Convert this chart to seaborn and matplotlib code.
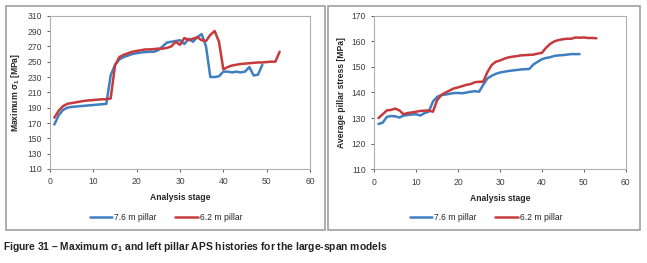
import numpy as np
import pandas as pd
import seaborn as sns
import matplotlib.pyplot as plt
from matplotlib.patches import Rectangle

sns.set_style("white")
plt.rcParams["font.family"] = ["Liberation Sans", "DejaVu Sans"]
plt.rcParams["mathtext.fontset"] = "custom"
plt.rcParams["mathtext.rm"] = "Liberation Sans"
plt.rcParams["mathtext.bf"] = "Liberation Sans:bold"

# left chart: maximum sigma 1 per analysis stage
sig_76 = [168, 180, 187, 190, 191, 191.5, 192, 192.5, 193, 193.5, 194, 194.5, 195,
          232, 246, 253, 256, 258, 260, 261, 262, 262.5, 263, 263, 265, 270,
          275, 276, 277, 278, 273, 280, 276, 282, 286, 270, 230, 230, 231,
          237, 237, 236, 237, 236, 237, 243, 232, 233, 246]
sig_62 = [177, 186, 192, 195, 196, 197, 198, 199, 199.5, 200, 200.5, 201, 201, 202,
          245, 256, 259, 261, 263, 264, 265, 266, 266, 266.5, 267, 267, 268,
          270, 276, 272, 281, 278, 280, 282, 278, 277, 285, 290, 276, 240,
          243, 245, 246, 247, 247.5, 248, 248.5, 249, 249, 249.5, 250, 250, 263]

# right chart: average pillar stress per analysis stage
aps_76 = [127.7, 128.2, 130.5, 130.8, 130.7, 130.2, 131, 131.2, 131.4, 131.5, 131, 132,
          132.5, 136.5, 138.3, 139, 139.2, 139.5, 139.8, 139.8, 139.7, 140, 140.3, 140.5,
          140.3, 143, 145.5, 146.5, 147.3, 147.8, 148.1, 148.4, 148.6, 148.8, 149,
          149.1, 149.2, 151, 152, 153, 153.5, 153.8, 154.3, 154.5, 154.6, 154.8, 155,
          155, 155]
aps_62 = [130, 131.5, 133, 133.2, 133.7, 133, 131.5, 132, 132.2, 132.5, 132.8, 132.9,
          133, 132.5, 137, 139, 140, 140.8, 141.6, 142, 142.5, 143, 143.3, 144, 144.2,
          144.2, 148, 150.7, 152, 152.5, 153.2, 153.7, 154, 154.2, 154.5, 154.6, 154.7,
          154.8, 155.2, 155.5, 157.5, 159, 160, 160.5, 160.8, 161, 161, 161.5, 161.4,
          161.5, 161.3, 161.3, 161.2]

names = ["7.6 m pillar", "6.2 m pillar"]
colors = {"7.6 m pillar": "#3f7fc1", "6.2 m pillar": "#c63a3d"}


def to_frame(a, b):
    rows = []
    for name, vals in zip(names, (a, b)):
        for i, v in enumerate(vals):
            rows.append({"stage": i + 1, "value": v, "series": name})
    return pd.DataFrame(rows)


fig = plt.figure(figsize=(6.47, 2.63), dpi=100)

# panel borders
for x0, x1 in [(5.5, 325), (328, 640)]:
    fig.patches.append(Rectangle((x0 / 647, 1 - 230 / 263), (x1 - x0) / 647, (230 - 5.5) / 263,
                                 transform=fig.transFigure, fill=False,
                                 edgecolor="#a0a0a0", linewidth=1.2))

ax1 = fig.add_axes([50 / 647, 1 - 169 / 263, 260 / 647, 153.3 / 263])
ax2 = fig.add_axes([374.3 / 647, 1 - 169.3 / 263, 251.4 / 647, 153.6 / 263])

panels = [
    (ax1, to_frame(sig_76, sig_62), (110, 310), 20, r"Maximum σ$_\mathbf{1}$ [MPa]", 166 / 647),
    (ax2, to_frame(aps_76, aps_62), (110, 170), 10, "Average pillar stress [MPa]", 486 / 647),
]

for ax, df, ylim, step, ylab, lx in panels:
    sns.lineplot(data=df, x="stage", y="value", hue="series", palette=colors,
                 linewidth=1.8, ax=ax, legend=False)
    ax.set_xlim(0, 60)
    ax.set_ylim(*ylim)
    ax.set_xticks(range(0, 61, 10))
    ax.set_yticks(np.arange(ylim[0], ylim[1] + 1, step))
    ax.tick_params(labelsize=6.2, colors="#404040", length=2.5, width=0.6,
                   direction="out", left=True, bottom=True)
    for s in ax.spines.values():
        s.set_color("#b0b0b0")
        s.set_linewidth(0.8)
    ax.set_xlabel("Analysis stage", fontsize=6.2, fontweight="bold", labelpad=5)
    ax.set_ylabel(ylab, fontsize=6.2, fontweight="bold", labelpad=4)
    handles = [plt.Line2D([], [], color=colors[n], linewidth=1.8) for n in names]
    fig.legend(handles, names, loc="center", bbox_to_anchor=(lx, 1 - 218 / 263),
               ncol=2, frameon=False, fontsize=6.2, handlelength=2.6,
               handletextpad=0.2, columnspacing=2.2)

fig.text(3 / 647, 1 - 247 / 263,
         "Figure 31 – Maximum σ$_\\mathbf{1}$ and left pillar APS histories for the large-span models",
         fontsize=7.4, fontweight="bold", va="center", ha="left", color="#222222")

fig.savefig("out.png", dpi=100)
